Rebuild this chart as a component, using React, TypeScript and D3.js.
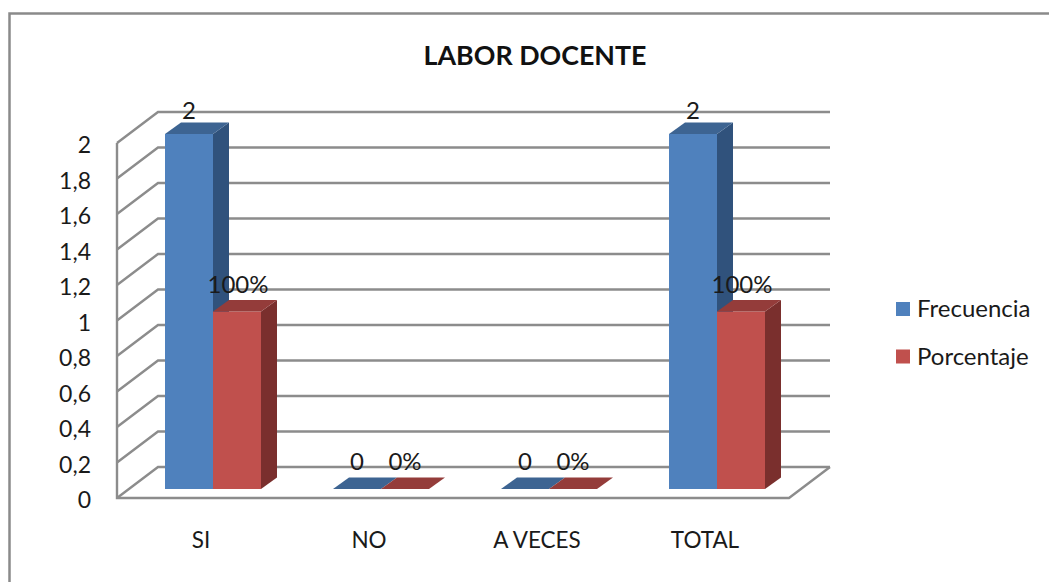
import React from "react";
import * as d3 from "d3";

const title = "LABOR DOCENTE";
const categories = ["SI", "NO", "A VECES", "TOTAL"];
const frecuencia = [2, 0, 0, 2];
const porcentaje = [1, 0, 0, 1];
const porcentajeLabels = ["100%", "0%", "0%", "100%"];
const seriesNames = ["Frecuencia", "Porcentaje"];
const yTicks = [0, 0.2, 0.4, 0.6, 0.8, 1, 1.2, 1.4, 1.6, 1.8, 2];

const W = 1049, H = 582;
const FONT = "Lato, 'Open Sans', sans-serif";
const GRID = "#8c8c8c";
const BLUE = { front: "#4f81bd", top: "#3d6492", side: "#30527c" };
const RED = { front: "#c0504d", top: "#943c3a", side: "#7a2f2d" };

const y = d3.scaleLinear().domain([0, 2]).range([498, 143]);
const barY = d3.scaleLinear().domain([0, 2]).range([489, 134]);
const x = d3.scaleBand().domain(categories).range([117, 789]);
const DX = 41, DY = -31;
const BD = 16, BDY = -11.5;
const BW = 48;

function Bar({ bx, value, c }: { bx: number; value: number; c: typeof BLUE }) {
  const t = barY(value), b = barY(0);
  const pts = (a: number[][]) => a.map((p) => p.join(",")).join(" ");
  return (
    <g>
      {value > 0 && <rect x={bx} y={t} width={BW} height={b - t} fill={c.front} />}
      {value > 0 && <polygon points={pts([[bx + BW, t], [bx + BW + BD, t + BDY], [bx + BW + BD, b + BDY], [bx + BW, b]])} fill={c.side} />}
      <polygon points={pts([[bx, t], [bx + BD, t + BDY], [bx + BW + BD, t + BDY], [bx + BW, t]])} fill={c.top} />
    </g>
  );
}

export default function App() {
  const fmt = (v: number) => String(v).replace(".", ",");
  const barStart = (c: string) => (x(c) as number) + 48;
  return (
    <svg width={W} height={H} style={{ position: "absolute", left: 0, top: 0, background: "#fff" }} fontFamily={FONT} fill="#1a1a1a">
      <path d={`M9.5,${H} V13.5 H${W}`} fill="none" stroke="#8a8a8a" strokeWidth={2.5} />
      <text x={535} y={65} textAnchor="middle" fontSize={26.8} fontWeight={700} fill="#111">{title}</text>

      <g stroke={GRID} strokeWidth={2.4} fill="none">
        {yTicks.map((t) => (
          <path key={t} d={`M${x.range()[0]},${y(t)} L${x.range()[0] + DX},${y(t) + DY} H${x.range()[1] + DX}`} />
        ))}
        <path d={`M${x.range()[0]},${y(2)} V${y(0)} H${x.range()[1]} L${x.range()[1] + DX},${y(0) + DY}`} />
      </g>

      <g fontSize={23} textAnchor="end">
        {yTicks.map((t) => (
          <text key={t} x={91} y={y(t) + 10}>{fmt(t)}</text>
        ))}
      </g>

      {categories.map((c, i) => {
        const bx = barStart(c);
        return (
          <g key={c}>
            <Bar bx={bx} value={frecuencia[i]} c={BLUE} />
            <Bar bx={bx + BW} value={porcentaje[i]} c={RED} />
          </g>
        );
      })}

      <g fontSize={24} textAnchor="middle">
        {categories.map((c, i) => {
          const bx = barStart(c);
          const zero = frecuencia[i] === 0;
          return (
            <g key={c}>
              <text x={bx + 24} y={barY(frecuencia[i]) - 15 + (zero ? -4 : 0)}>{frecuencia[i]}</text>
              <text x={bx + 72 + (zero ? 0 : 1)} y={barY(porcentaje[i]) - 19}>{porcentajeLabels[i]}</text>
            </g>
          );
        })}
      </g>

      <g fontSize={22.5} textAnchor="middle">
        {categories.map((c) => (
          <text key={c} x={barStart(c) + 36} y={548}>{c}</text>
        ))}
      </g>

      {seriesNames.map((s, i) => (
        <g key={s}>
          <rect x={896} y={302 + i * 47.5} width={14} height={14} fill={i === 0 ? BLUE.front : RED.front} />
          <text x={917} y={317 + i * 47.5} fontSize={24}>{s}</text>
        </g>
      ))}
    </svg>
  );
}
